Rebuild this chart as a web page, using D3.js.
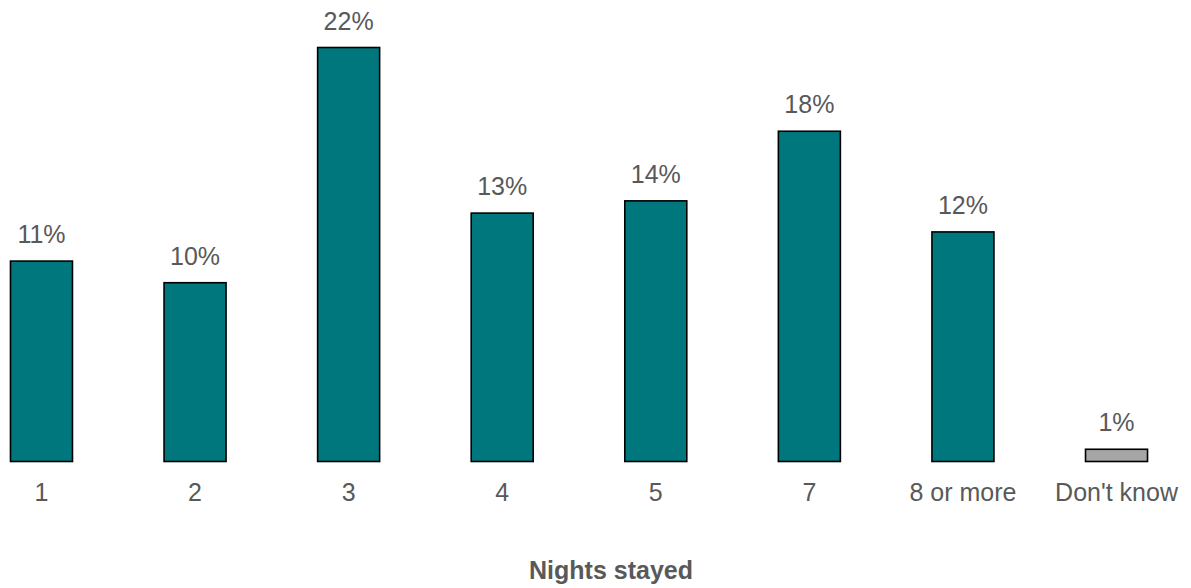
<!DOCTYPE html>
<html>
<head>
<meta charset="utf-8">
<script src="https://cdn.jsdelivr.net/npm/d3@7"></script>
<style>
  html, body { margin: 0; padding: 0; background: #fff; }
  svg { display: block; }
  text { font-family: "Liberation Sans", Arial, sans-serif; fill: #595959; }
</style>
</head>
<body>
<script>
const categories = ["1", "2", "3", "4", "5", "7", "8 or more", "Don't know"];
const values = [10.65, 9.5, 22.0, 13.2, 13.85, 17.55, 12.2, 0.65];
const labels = ["11%", "10%", "22%", "13%", "14%", "18%", "12%", "1%"];
const barColors = ["#00777D", "#00777D", "#00777D", "#00777D", "#00777D", "#00777D", "#00777D", "#A6A6A6"];
const axisTitle = "Nights stayed";

const W = 1191, H = 588;
const svg = d3.select("body").append("svg").attr("width", W).attr("height", H);

const x = d3.scaleBand()
  .domain(categories)
  .range([-81.1, 1239.1])
  .paddingInner(0.5963)
  .paddingOuter(0.5963);

const y = d3.scaleLinear().domain([0, 22]).range([461.5, 47.5]);

const data = categories.map((c, i) => ({ c, v: values[i], l: labels[i], col: barColors[i] }));

svg.selectAll("rect.bar").data(data).enter().append("rect")
  .attr("class", "bar")
  .attr("x", d => x(d.c))
  .attr("y", d => y(d.v))
  .attr("width", x.bandwidth())
  .attr("height", d => y(0) - y(d.v))
  .attr("fill", d => d.col)
  .attr("stroke", "#000")
  .attr("stroke-width", 1.6);

svg.selectAll("text.val").data(data).enter().append("text")
  .attr("class", "val")
  .attr("x", d => x(d.c) + x.bandwidth() / 2)
  .attr("y", d => y(d.v) - 18)
  .attr("text-anchor", "middle")
  .style("font-size", "25px")
  .text(d => d.l);

const axis = d3.axisBottom(x).tickSize(0).tickPadding(0);
const g = svg.append("g").attr("transform", "translate(0,481)").call(axis);
g.select(".domain").remove();
g.selectAll("text")
  .attr("dy", "0")
  .attr("y", 20)
  .style("font-size", "25px")
  .style("font-family", "'Liberation Sans', Arial, sans-serif")
  .attr("fill", "#595959");

svg.append("text")
  .attr("x", 611)
  .attr("y", 579)
  .attr("text-anchor", "middle")
  .style("font-size", "25px")
  .style("font-weight", "bold")
  .text(axisTitle);
</script>
</body>
</html>
